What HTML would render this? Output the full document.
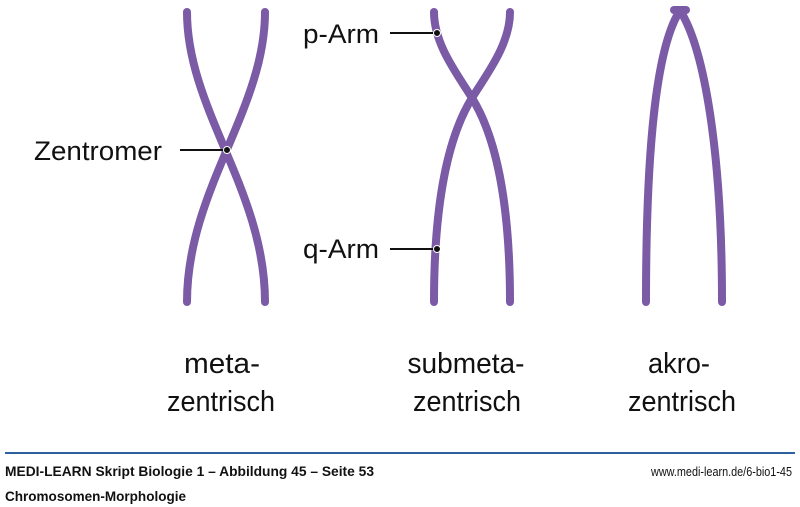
<!DOCTYPE html>
<html><head><style>
body{margin:0;width:800px;height:507px;background:#fff;overflow:hidden;position:relative;font-family:"Liberation Sans",sans-serif}
</style></head><body>
<svg width="800" height="507" style="position:absolute;left:0;top:0">
<g fill="none" stroke="#7b5aa6" stroke-width="8" stroke-linecap="round">
<path d="M187,12 C187,110 265,190 265,302"/>
<path d="M265,12 C265,110 187,190 187,302"/>
<path d="M434,12 C434,45 458,75 472,98 C495,135 510,200 510,302"/>
<path d="M510,12 C510,45 486,75 472,98 C449,135 434,200 434,302"/>
<path d="M679,12 C656,50 646,150 646,302"/>
<path d="M681,12 C704,50 722,150 722,302"/>
<path d="M674,10 L686,10"/>
</g>
<g stroke="#111" stroke-width="2">
<line x1="180" y1="150" x2="227" y2="150"/>
<line x1="390" y1="33" x2="437" y2="33"/>
<line x1="390" y1="249" x2="437" y2="249"/>
</g>
<g fill="#111" stroke="#fff" stroke-width="1">
<circle cx="227" cy="150" r="3.5"/><circle cx="437" cy="33" r="3.5"/><circle cx="437" cy="249" r="3.5"/>
</g>
<g font-family="Liberation Sans, sans-serif" font-size="27" fill="#111">
<text x="34" y="160" textLength="128" lengthAdjust="spacingAndGlyphs">Zentromer</text>
<text x="303" y="43" textLength="76" lengthAdjust="spacingAndGlyphs">p-Arm</text>
<text x="303" y="258" textLength="76" lengthAdjust="spacingAndGlyphs">q-Arm</text>
</g>
<g font-family="Liberation Sans, sans-serif" font-size="29" fill="#111" text-anchor="middle">
<text x="222" y="373" textLength="76" lengthAdjust="spacingAndGlyphs">meta-</text><text x="221" y="411" textLength="108" lengthAdjust="spacingAndGlyphs">zentrisch</text>
<text x="466" y="373" textLength="117" lengthAdjust="spacingAndGlyphs">submeta-</text><text x="467" y="411" textLength="108" lengthAdjust="spacingAndGlyphs">zentrisch</text>
<text x="679" y="373" textLength="62" lengthAdjust="spacingAndGlyphs">akro-</text><text x="682" y="411" textLength="108" lengthAdjust="spacingAndGlyphs">zentrisch</text>
</g>
<line x1="5" y1="453" x2="795" y2="453" stroke="#2f5f9f" stroke-width="2"/>
<g font-family="Liberation Sans, sans-serif" fill="#111">
<text x="5" y="476" font-size="14" font-weight="bold" textLength="369" lengthAdjust="spacingAndGlyphs">MEDI-LEARN Skript Biologie 1 – Abbildung 45 – Seite 53</text>
<text x="5" y="501" font-size="14" font-weight="bold" textLength="181" lengthAdjust="spacingAndGlyphs">Chromosomen-Morphologie</text>
<text x="651" y="476" font-size="13" textLength="141" lengthAdjust="spacingAndGlyphs">www.medi-learn.de/6-bio1-45</text>
</g>
</svg>
</body></html>
